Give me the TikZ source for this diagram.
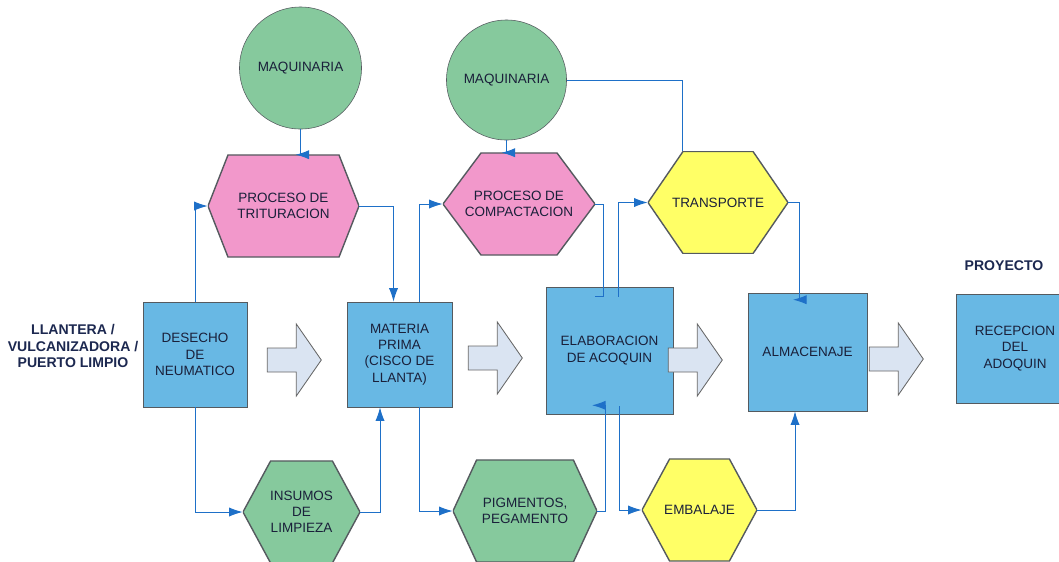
\documentclass[tikz,border=0pt]{standalone}
\usepackage{fontspec}
\setmainfont{Liberation Sans}
\usetikzlibrary{calc, arrows.meta}

\definecolor{boxblue}{RGB}{104,184,228}
\definecolor{leafgreen}{RGB}{134,201,157}
\definecolor{rosepink}{RGB}{242,152,203}
\definecolor{lemon}{RGB}{255,255,102}
\definecolor{paleblue}{RGB}{218,228,242}
\definecolor{linkblue}{RGB}{30,112,200}
\definecolor{outline}{RGB}{85,90,95}
\definecolor{ink}{RGB}{26,32,58}
\definecolor{navy}{RGB}{28,40,80}

\tikzset{
    hexcut/.store in=\hexcut, hexcut=.5cm,
    hexfill/.store in=\hexfill, hexfill=rosepink,
    hexagon/.style={minimum height=2.55cm, inner sep=1pt, align=center, text=ink,
        path picture={
            \filldraw[draw=outline, fill=\hexfill, line width=1pt]
                (path picture bounding box.west)
                -- ($(path picture bounding box.north west) + (\hexcut, 0pt)$)
                -- ($(path picture bounding box.north east) + (-\hexcut, 0pt)$)
                -- (path picture bounding box.east)
                -- ($(path picture bounding box.south east) + (-\hexcut, 0pt)$)
                -- ($(path picture bounding box.south west) + (\hexcut, 0pt)$)
                -- cycle;}}
}

\begin{document}
\begin{tikzpicture}[x=.025cm, y=-.025cm, font=\fontsize{9.6}{11.5}\selectfont]
    \tikzstyle{process} = [rectangle, draw=outline, fill=boxblue, align=center, text=ink, inner sep=2pt]
    \tikzstyle{machine} = [circle, draw=outline, fill=leafgreen, text=ink, inner sep=1pt]
    \tikzstyle{flow} = [draw=linkblue, line width=.7pt, -{Latex[length=3.4mm, width=2.3mm]}]
    \tikzstyle{flowline} = [draw=linkblue, line width=.7pt]
    \tikzstyle{bigarrow} = [draw=gray!80!black, fill=paleblue, line width=.6pt, line join=miter]

    \path[use as bounding box, clip] (0,0) rectangle (1059,561);

    % Main chain ----------------------------------------
    \node (desecho) at (195, 354.5) [process, minimum width=2.6cm, minimum height=2.625cm] {DESECHO\\ DE\\ NEUMATICO};
    \node (materia) at ($(desecho) + (204.5, 0)$) [process, minimum width=2.625cm, minimum height=2.625cm] {MATERIA\\ PRIMA\\ (CISCO DE\\ LLANTA)};
    \node (elab) at ($(materia) + (210, -4)$) [process, minimum size=3.175cm] {ELABORACION\\ DE ACOQUIN};
    \node (almac) at ($(elab) + (198, 1.5)$) [process, minimum width=2.975cm, minimum height=2.95cm] {ALMACENAJE};
    \node (recep) at ($(almac) + (207.5, -3.5)$) [process, minimum width=2.95cm, minimum height=2.725cm] {RECEPCION\\ DEL\\ ADOQUIN};

    \node (source) at ($(desecho) + (-122, -8.5)$) [font=\bfseries, align=center, text=navy] {LLANTERA /\\ VULCANIZADORA /\\ PUERTO LIMPIO};
    \node (proyecto) at ($(recep) + (-11, -82.5)$) [font=\bfseries, text=navy] {PROYECTO};
    % ---------------------------------------------------

    % Upper and lower stages
    \node (trit) at (283.5, 206) [hexagon, minimum width=3.775cm, hexcut=.5cm] {PROCESO DE\\ TRITURACION};
    \node (maq1) at ($(trit) + (17, -138)$) [machine, minimum size=3.05cm] {MAQUINARIA};
    \node (insumos) at (301.5, 512) [hexagon, minimum width=2.925cm, hexcut=.69cm, hexfill=leafgreen] {INSUMOS\\ DE\\ LIMPIEZA};

    \node (comp) at (519, 204) [hexagon, minimum width=3.8cm, hexcut=.95cm] {PROCESO DE\\ COMPACTACION};
    \node (maq2) at ($(comp) + (-12.5, -124)$) [machine, minimum size=3cm] {MAQUINARIA};
    \node (pigm) at (525, 511) [hexagon, minimum width=3.6cm, hexcut=.59cm, hexfill=leafgreen] {PIGMENTOS,\\ PEGAMENTO};

    \node (transp) at (718, 202.5) [hexagon, minimum width=3.5cm, hexcut=.875cm, hexfill=lemon] {TRANSPORTE};
    \node (embal) at (699.5, 510) [hexagon, minimum width=2.875cm, hexcut=.69cm, hexfill=lemon] {EMBALAJE};
    % ---------------------------------------------------

    % Block arrows
    \draw[bigarrow] ($(desecho.east) + (20, -6.5)$) -- ++(29, 0) -- ++(0, -24) -- ++(25, 36) -- ++(-25, 36) -- ++(0, -24) -- ++(-29, 0) -- cycle;
    \draw[bigarrow] ($(materia.east) + (16, -8.5)$) -- ++(29, 0) -- ++(0, -24) -- ++(25, 36) -- ++(-25, 36) -- ++(0, -24) -- ++(-29, 0) -- cycle;
    \draw[bigarrow] ($(elab.east) + (-5, -2.5)$) -- ++(29, 0) -- ++(0, -24) -- ++(25, 36) -- ++(-25, 36) -- ++(0, -24) -- ++(-29, 0) -- cycle;
    \draw[bigarrow] ($(almac.east) + (2, -5)$) -- ++(29, 0) -- ++(0, -24) -- ++(25, 36) -- ++(-25, 36) -- ++(0, -24) -- ++(-29, 0) -- cycle;

    % Connectors ----------------------------------------
    \draw[flow] (desecho.north) |- (trit.west);
    \draw[flow] (desecho.south) |- (insumos.west);
    \draw[flow] (maq1.south) -- (maq1.south |- trit.north) -- ++(-5, 0);
    \draw[flow] (trit.east) -| ($(materia.north) + (-6, 0)$);
    \draw[flow] (insumos.east) -| ($(materia.south) + (-19.5, 0)$);

    \draw[flow] ($(materia.north) + (19.5, 0)$) |- (comp.west);
    \draw[flow] ($(materia.south) + (19.5, 0)$) |- (pigm.west);
    \draw[flow] (maq2.south) -- (maq2.south |- comp.north) -- ++(-5, 0);
    \draw[flowline] (maq2.east) -| ($(transp.north) + (-36, 0)$);
    \draw[flowline] (comp.east) -| ($(elab.north) + (-6, 10)$) -- ++(-9, 0);
    \draw[flow] (pigm.east) -| ($(elab.south) + (-4.5, -9)$) -- ++(-13, 0);

    \draw[flow] ($(elab.north) + (9, 10)$) |- (transp.west);
    \draw[flow] ($(elab.south) + (9.5, -8)$) |- (embal.west);
    \draw[flow] (transp.east) -| ($(almac.north) + (-8.5, 7)$) -- ++(-6, 0);
    \draw[flow] (embal.east) -| ($(almac.south) + (-12.5, 0)$);
\end{tikzpicture}
\end{document}
